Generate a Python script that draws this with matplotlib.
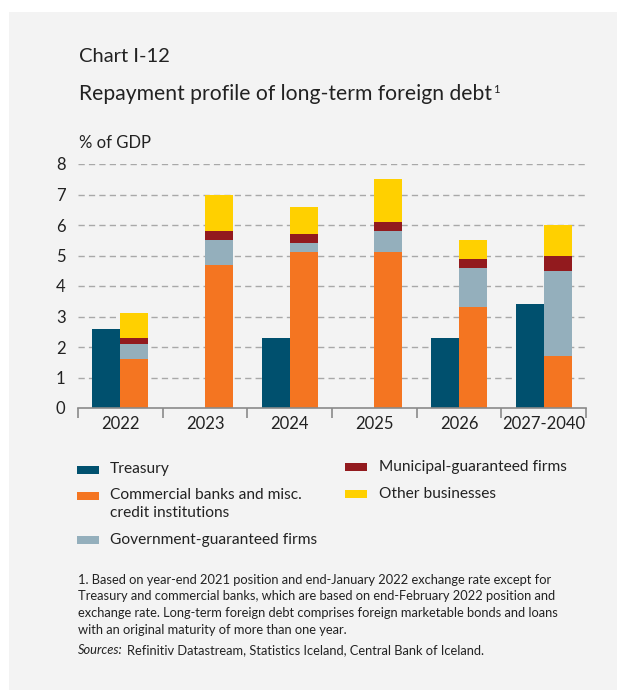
import numpy as np
import matplotlib.pyplot as plt
from matplotlib.patches import Rectangle

plt.rcParams['font.family'] = ['Lato', 'DejaVu Sans']

# Gögn: endurgreiðsluferill, % af VLF
years = ["2022", "2023", "2024", "2025", "2026", "2027-2040"]
treasury = [2.6, 0.0, 2.3, 0.0, 2.3, 3.4]
commercial = [1.6, 4.7, 5.1, 5.1, 3.3, 1.7]
gov_guaranteed = [0.5, 0.8, 0.3, 0.7, 1.3, 2.8]
municipal = [0.2, 0.3, 0.3, 0.3, 0.3, 0.5]
other = [0.8, 1.2, 0.9, 1.4, 0.6, 1.0]

BG = "#f3f3f3"
C_TREAS = "#00506e"
C_COMM = "#f47521"
C_GOV = "#94afbc"
C_MUNI = "#921a1e"
C_OTHER = "#ffd000"
TXT = "#222222"

fig = plt.figure(figsize=(6.17, 6.90), dpi=100)
fig.patch.set_facecolor("white")
# grár bakgrunnsflötur
fig.add_artist(Rectangle((9 / 617, 0), 1, 1 - 12 / 690, transform=fig.transFigure,
                         facecolor=BG, edgecolor="none", zorder=-10))

ax = fig.add_axes([78 / 617, 1 - 408 / 690, (586 - 78) / 617, (408 - 164) / 690])
ax.set_facecolor(BG)

x = np.arange(len(years))
w = 0.33
ax.bar(x - w / 2, treasury, w, color=C_TREAS, zorder=3)
bottom = np.zeros(len(years))
for vals, col in [(commercial, C_COMM), (gov_guaranteed, C_GOV),
                  (municipal, C_MUNI), (other, C_OTHER)]:
    ax.bar(x + w / 2, vals, w, bottom=bottom, color=col, zorder=3)
    bottom += np.array(vals)

ax.set_xlim(-0.5, len(years) - 0.5)
ax.set_ylim(0, 8)
ax.set_yticks(range(0, 9))
ax.tick_params(axis="y", length=0, pad=9, labelsize=12, labelcolor=TXT)
for yv in range(1, 9):
    ax.axhline(yv, color="#a8a8a8", lw=1.0, ls=(0, (4.5, 3)), zorder=1)

ax.set_xticks(x)
ax.set_xticklabels(years)
ax.tick_params(axis="x", length=0, pad=6, labelsize=12, labelcolor=TXT)
ax.set_xticks(np.arange(-0.5, len(years)), minor=True)
ax.tick_params(axis="x", which="minor", length=7, width=1.2, color="#8a8a8a", direction="out")

for s in ["top", "right", "left"]:
    ax.spines[s].set_visible(False)
ax.spines["bottom"].set_color("#8a8a8a")
ax.spines["bottom"].set_linewidth(1.2)
ax.spines["bottom"].set_zorder(4)

def fx(px):
    return px / 617

def fy(py):
    return 1 - py / 690

renderer = fig.canvas.get_renderer()

fig.text(fx(79), fy(62), "Chart I-12", fontsize=14.5, color=TXT, va="baseline")
title = fig.text(fx(79), fy(100), "Repayment profile of long-term foreign debt",
                 fontsize=15.2, color=TXT, va="baseline")
tb = title.get_window_extent(renderer)
fig.text(fx(tb.x1 + 1), fy(93), "1", fontsize=8, color=TXT, va="baseline")
fig.text(fx(79), fy(148), "% of GDP", fontsize=12, color=TXT, va="baseline")

# skýringar
legend_items = [
    (77, 466, C_TREAS, 110, 469, "Treasury"),
    (77, 492, C_COMM, 110, 504, "Commercial banks and misc.\ncredit institutions"),
    (77, 536, C_GOV, 110, 540, "Government-guaranteed firms"),
    (345, 463, C_MUNI, 379, 467, "Municipal-guaranteed firms"),
    (345, 490, C_OTHER, 379, 494, "Other businesses"),
]
for px, py, col, tx, ty, lab in legend_items:
    fig.add_artist(Rectangle((fx(px), fy(py + 8)), 22 / 617, 8 / 690,
                             transform=fig.transFigure, facecolor=col, edgecolor="none"))
    fig.text(fx(tx), fy(ty), lab, fontsize=11.2, color=TXT, va="center", linespacing=1.3)

note = ("1. Based on year-end 2021 position and end-January 2022 exchange rate except for\n"
        "Treasury and commercial banks, which are based on end-February 2022 position and\n"
        "exchange rate. Long-term foreign debt comprises foreign marketable bonds and loans\n"
        "with an original maturity of more than one year.")
fig.text(fx(78), fy(574), note, fontsize=9.3, color=TXT, va="top", linespacing=1.45)
src = fig.text(fx(78), fy(650), "Sources:", fontsize=9.3, color=TXT, va="center", style="italic")
sb = src.get_window_extent(renderer)
fig.text(fx(sb.x1 + 4), fy(650), "Refinitiv Datastream, Statistics Iceland, Central Bank of Iceland.",
         fontsize=9.3, color=TXT, va="center")

fig.savefig("out.png", dpi=100, facecolor=fig.get_facecolor())
